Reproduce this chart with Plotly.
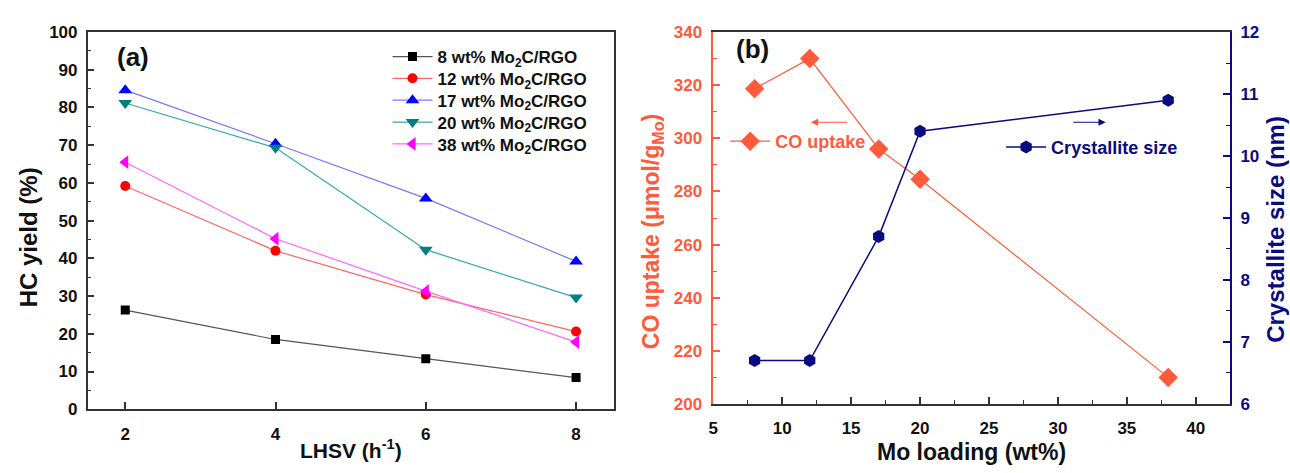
import plotly.graph_objects as go

W, H = 1290, 473

# ---------------- data: panel (a) ----------------
lhsv = [2, 4, 6, 8]
series_names = [
    "8 wt% Mo<sub>2</sub>C/RGO",
    "12 wt% Mo<sub>2</sub>C/RGO",
    "17 wt% Mo<sub>2</sub>C/RGO",
    "20 wt% Mo<sub>2</sub>C/RGO",
    "38 wt% Mo<sub>2</sub>C/RGO",
]
hc_8 = [26.3, 18.5, 13.4, 8.4]
hc_12 = [59.2, 42.0, 30.4, 20.6]
hc_17 = [84.6, 70.4, 55.9, 39.2]
hc_20 = [81.2, 69.3, 42.3, 29.6]
hc_38 = [65.5, 45.2, 31.3, 17.8]
hc_series = [hc_8, hc_12, hc_17, hc_20, hc_38]

# ---------------- data: panel (b) ----------------
mo_loading = [8, 12, 17, 20, 38]
co_uptake = [318.7, 330.0, 296.0, 284.6, 210.0]
crystallite = [6.7, 6.7, 8.7, 10.4, 10.9]

colors_a = ["#000000", "#FF0000", "#0000FF", "#008080", "#FF00FF"]
line_a = ["#555555", "#FF6666", "#7777FF", "#33AAAA", "#FF66FF"]
symbols_a = ["square", "circle", "triangle-up", "triangle-down", "triangle-left"]
sizes_a = [9, 10, 12, 12, 12]
legend_rows_px = [50, 72.7, 95.5, 118.3, 141]

ORANGE = "#FF5A3A"
NAVY = "#0B0B80"
FONT = "Liberation Sans, Arial, sans-serif"
BLACK = "#111111"


def px_x(v):
    return v / W


def px_y(v):
    return 1 - v / H


fig = go.Figure()

leg_ids = ["legend", "legend4", "legend5", "legend6", "legend7"]
for name, ys, c, lc, s, sz, lg in zip(series_names, hc_series, colors_a, line_a,
                                      symbols_a, sizes_a, leg_ids):
    fig.add_trace(go.Scatter(
        x=lhsv, y=ys, name=name, mode="lines+markers",
        line=dict(color=lc, width=1.2),
        marker=dict(symbol=s, size=sz, color=c),
        xaxis="x", yaxis="y", legend=lg,
    ))

fig.add_trace(go.Scatter(
    x=mo_loading, y=co_uptake, name="CO uptake", mode="lines+markers",
    line=dict(color=ORANGE, width=1.2),
    marker=dict(symbol="diamond", size=15, color=ORANGE),
    xaxis="x2", yaxis="y2", legend="legend2",
))
fig.add_trace(go.Scatter(
    x=mo_loading, y=crystallite, name="Crystallite size", mode="lines+markers",
    line=dict(color=NAVY, width=1.5),
    marker=dict(symbol="hexagon", size=13, color=NAVY),
    xaxis="x2", yaxis="y3", legend="legend3",
))

TICK = 17
tickfont_black = dict(family=FONT, size=TICK, color=BLACK, weight="bold")
AX = "#333333"


def leg(xpx, ypx, color, size=17):
    return dict(
        x=px_x(xpx), y=px_y(ypx), xanchor="left", yanchor="middle",
        bgcolor="rgba(0,0,0,0)", itemwidth=40,
        font=dict(family=FONT, size=size, color=color, weight="bold"),
    )


layout_legends = {lg: leg(384, ypx, BLACK) for lg, ypx in zip(leg_ids, legend_rows_px)}

fig.update_layout(
    width=W, height=H,
    margin=dict(l=0, r=0, t=0, b=0),
    paper_bgcolor="white", plot_bgcolor="white",
    font=dict(family=FONT),
    xaxis=dict(
        domain=[px_x(83), px_x(611)], anchor="y",
        range=[1.5, 8.5], tickvals=lhsv,
        showline=True, linecolor=AX, linewidth=1.5, mirror=True,
        ticks="inside", ticklen=7, tickwidth=1.5, tickcolor=AX,
        showgrid=False, zeroline=False, tickfont=tickfont_black,
        ticklabelstandoff=9,
    ),
    yaxis=dict(
        domain=[px_y(417), px_y(24)], anchor="x",
        range=[0, 100], dtick=10,
        showline=True, linecolor=AX, linewidth=1.5, mirror=True,
        ticks="inside", ticklen=7, tickwidth=1.5, tickcolor=AX,
        minor=dict(ticks="inside", ticklen=4, dtick=5, tickcolor=AX, tickwidth=1.2),
        showgrid=False, zeroline=False, tickfont=tickfont_black,
        ticklabelstandoff=5,
    ),
    xaxis2=dict(
        domain=[px_x(711), px_x(1230)], anchor="y2",
        range=[5, 42.5], dtick=5, tick0=5,
        showline=True, linecolor=AX, linewidth=1.5, mirror=True,
        ticks="inside", ticklen=7, tickwidth=1.5, tickcolor=AX,
        minor=dict(ticks="inside", ticklen=4, dtick=2.5, tick0=5, tickcolor=AX, tickwidth=1.2),
        showgrid=False, zeroline=False, tickfont=tickfont_black,
        ticklabelstandoff=8,
    ),
    yaxis2=dict(
        domain=[px_y(411.5), px_y(24)], anchor="x2",
        range=[200, 340], dtick=20,
        showline=True, linecolor=ORANGE, linewidth=1.5,
        ticks="inside", ticklen=7, tickwidth=1.5, tickcolor=ORANGE,
        minor=dict(ticks="inside", ticklen=4, dtick=10, tickcolor=ORANGE, tickwidth=1.2),
        showgrid=False, zeroline=False,
        tickfont=dict(family=FONT, size=TICK, color=ORANGE, weight="bold"),
        ticklabelstandoff=6,
    ),
    yaxis3=dict(
        overlaying="y2", side="right", anchor="x2",
        range=[6, 12], dtick=1,
        showline=True, linecolor=NAVY, linewidth=1.5,
        ticks="inside", ticklen=7, tickwidth=1.5, tickcolor=NAVY,
        minor=dict(ticks="inside", ticklen=4, dtick=0.5, tickcolor=NAVY, tickwidth=1.2),
        showgrid=False, zeroline=False,
        tickfont=dict(family=FONT, size=TICK, color=NAVY, weight="bold"),
        ticklabelstandoff=5,
    ),
    legend2=leg(723, 138, ORANGE, 18),
    legend3=leg(1000, 144, NAVY, 18),
    showlegend=True,
    **layout_legends,
)


def label(text, x, y, size, color, angle=0):
    fig.add_annotation(
        text=text, x=px_x(x), y=px_y(y), xref="paper", yref="paper",
        showarrow=False, textangle=angle, xanchor="center", yanchor="middle",
        font=dict(family=FONT, size=size, color=color, weight="bold"),
    )


label("(a)", 128, 50, 26, BLACK)
label("(b)", 750, 42, 26, BLACK)
label("HC yield (%)", 24, 238, 24, BLACK, -90)
label("LHSV (h<sup>-1</sup>)", 347, 458, 21, BLACK)
label("CO uptake (μmol/g<sub>Mo</sub>)", 650, 232, 23, ORANGE, -90)
label("Crystallite size (nm)", 1276, 230, 24, NAVY, -90)
label("Mo loading (wt%)", 970, 462, 23, BLACK)


def arrow(x_head, x_tail, y, color):
    fig.add_annotation(
        x=px_x(x_head), y=px_y(y), xref="paper", yref="paper",
        ax=x_tail - x_head, ay=0, axref="pixel", ayref="pixel",
        text="", showarrow=True, arrowhead=2, arrowsize=1.2, arrowwidth=1.2,
        arrowcolor=color,
    )


arrow(809, 847, 118, ORANGE)
arrow(1105, 1071, 118, NAVY)

fig.write_html(
    "out.html",
    config={"displayModeBar": False},
    post_script="document.body.style.margin='0';document.body.style.overflow='hidden';",
)
